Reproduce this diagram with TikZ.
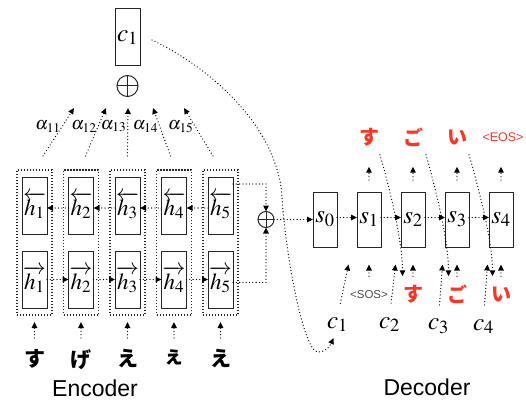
\documentclass[tikz,border=0pt]{standalone}
\usepackage{mathptmx}
\usepackage{fontspec}
\setsansfont{Liberation Sans}
\newfontfamily\jpfont{Noto Sans CJK JP}
\usepackage{tikz}
\usetikzlibrary{arrows.meta,positioning,fit,calc}
\definecolor{ink}{HTML}{262626}
\definecolor{tokred}{HTML}{FF3320}
\definecolor{sosgray}{HTML}{4D4D4D}
\tikzset{
  cell/.style={
    rectangle, draw=ink, line width=1pt, outer sep=0pt,
    minimum width=25pt, minimum height=57pt,
    inner sep=0pt, font=\fontsize{23}{23}\selectfont
  },
  deccell/.style={cell, minimum width=24pt, minimum height=55pt,
    font=\fontsize{25}{25}\selectfont},
  pairbox/.style={rectangle, draw=ink, line width=1.1pt, outer sep=0pt,
    dash pattern=on 1.2pt off 1.8pt, inner xsep=5pt, inner ysep=7pt},
  sumnode/.style={circle, draw=ink, line width=1pt, minimum size=#1,
    inner sep=0pt, outer sep=0pt,
    path picture={\draw[ink, line width=1pt]
      (path picture bounding box.north) -- (path picture bounding box.south)
      (path picture bounding box.west) -- (path picture bounding box.east);}},
  sumnode/.default=20pt,
  flow/.style={
    draw=black, line width=1.3pt, line cap=round,
    dash pattern=on 0pt off 3.3pt,
    -{Triangle[length=6pt,width=5.5pt]}
  },
  weight/.style={pos=0.62, left, inner sep=1pt,
    font=\fontsize{18}{18}\selectfont},
  enctok/.style={inner sep=0pt, font=\jpfont\bfseries\fontsize{21}{21}\selectfont},
  outtok/.style={inner sep=0pt, minimum height=20pt, text=tokred,
    font=\jpfont\bfseries\fontsize{20}{20}\selectfont},
  ctxlbl/.style={inner sep=0pt, font=\fontsize{25}{25}\selectfont},
  title/.style={inner sep=0pt, font=\sffamily\fontsize{23}{23}\selectfont},
}

\begin{document}
\begin{tikzpicture}[x=1pt, y=1pt]
  \useasboundingbox (0,0) rectangle (526,-401);
  % Encoder, backward states on top
  \node[cell] (hb1) at (34.5,-205.5) {$\overleftarrow{h_1}$};
  \node[cell, right=21.5pt of hb1] (hb2) {$\overleftarrow{h_2}$};
  \node[cell, right=21.5pt of hb2] (hb3) {$\overleftarrow{h_3}$};
  \node[cell, right=21.5pt of hb3] (hb4) {$\overleftarrow{h_4}$};
  \node[cell, right=21.5pt of hb4] (hb5) {$\overleftarrow{h_5}$};
  % forward states
  \node[cell, below=17pt of hb1] (hf1) {$\overrightarrow{h_1}$};
  \node[cell, below=17pt of hb2] (hf2) {$\overrightarrow{h_2}$};
  \node[cell, below=17pt of hb3] (hf3) {$\overrightarrow{h_3}$};
  \node[cell, below=17pt of hb4] (hf4) {$\overrightarrow{h_4}$};
  \node[cell, below=17pt of hb5] (hf5) {$\overrightarrow{h_5}$};
  \node[pairbox, fit=(hb1)(hf1)] (col1) {};
  \node[pairbox, fit=(hb2)(hf2)] (col2) {};
  \node[pairbox, fit=(hb3)(hf3)] (col3) {};
  \node[pairbox, fit=(hb4)(hf4)] (col4) {};
  \node[pairbox, fit=(hb5)(hf5)] (col5) {};
  \draw[flow] ([yshift=-2.5pt]hb2.west) -- ([yshift=-2.5pt]hb1.east);
  \draw[flow] ([yshift=-2.5pt]hb3.west) -- ([yshift=-2.5pt]hb2.east);
  \draw[flow] ([yshift=-2.5pt]hb4.west) -- ([yshift=-2.5pt]hb3.east);
  \draw[flow] ([yshift=-2.5pt]hb5.west) -- ([yshift=-2.5pt]hb4.east);
  \draw[flow] (hf1) -- (hf2);
  \draw[flow] (hf2) -- (hf3);
  \draw[flow] (hf3) -- (hf4);
  \draw[flow] (hf4) -- (hf5);
  % input characters
  \node[enctok, below=34pt of col1] (x1) {す};
  \node[enctok, below=34pt of col2] (x2) {げ};
  \node[enctok, below=34pt of col3] (x3) {え};
  \node[enctok, below=34pt of col4] (x4) {ぇ};
  \node[enctok, below=34pt of col5] (x5) {え};
  \draw[flow, shorten <=11pt, shorten >=7pt] (x1.north) -- (col1.south);
  \draw[flow, shorten <=11pt, shorten >=7pt] (x2.north) -- (col2.south);
  \draw[flow, shorten <=11pt, shorten >=7pt] (x3.north) -- (col3.south);
  \draw[flow, shorten <=11pt, shorten >=7pt] (x4.north) -- (col4.south);
  \draw[flow, shorten <=11pt, shorten >=7pt] (x5.north) -- (col5.south);
  \node[title] (enc) at (95,-388) {Encoder};
  % last states merged
  \node[sumnode=16pt, right=25pt of hb5, yshift=-14pt] (esum) {};
  \draw[flow] ([yshift=21.5pt]hb5.east) -| (esum.north);
  \draw[flow] ([yshift=-3pt]hf5.east) -| (esum.south);
  % attention weights
  \node[sumnode=21pt, above=73.5pt of col3] (tsum) {};
  \node[cell, above=9.5pt of tsum, font=\fontsize{25}{25}\selectfont] (ctx) {$c_1$};
  \draw[flow] ([xshift=8.5pt,yshift=14pt]col1.north)
    -- node[weight] {$\alpha_{11}$} ([xshift=-53.5pt,yshift=-11.5pt]tsum.south);
  \draw[flow] ([xshift=4.5pt,yshift=14pt]col2.north)
    -- node[weight] {$\alpha_{12}$} ([xshift=-21.5pt,yshift=-11.5pt]tsum.south);
  \draw[flow] ([yshift=14pt]col3.north)
    -- node[weight] {$\alpha_{13}$} ([xshift=0.5pt,yshift=-11.5pt]tsum.south);
  \draw[flow] ([xshift=-3.5pt,yshift=14pt]col4.north)
    -- node[weight] {$\alpha_{14}$} ([xshift=25.5pt,yshift=-11.5pt]tsum.south);
  \draw[flow] ([xshift=-7.5pt,yshift=14pt]col5.north)
    -- node[weight] {$\alpha_{15}$} ([xshift=56.5pt,yshift=-11.5pt]tsum.south);
  % Decoder row
  \node[deccell, right=39pt of esum] (s0) {$s_0$};
  \node[deccell, right=20pt of s0] (s1) {$s_1$};
  \node[deccell, right=20pt of s1] (s2) {$s_2$};
  \node[deccell, right=20pt of s2] (s3) {$s_3$};
  \node[deccell, right=20pt of s3] (s4) {$s_4$};
  \draw[flow] (esum) -- (s0);
  \draw[flow] ([yshift=2pt]s0.east) -- ([yshift=2pt]s1.west);
  \draw[flow] ([yshift=2pt]s1.east) -- ([yshift=2pt]s2.west);
  \draw[flow] ([yshift=2pt]s2.east) -- ([yshift=2pt]s3.west);
  \draw[flow] ([yshift=2pt]s3.east) -- ([yshift=2pt]s4.west);
  % generated characters
  \node[outtok] (out1) at ([yshift=82pt]s1.center) {す};
  \node[outtok] (out2) at ([yshift=82pt]s2.center) {ご};
  \node[outtok] (out3) at ([yshift=82pt]s3.center) {い};
  \node[outtok, font=\sffamily\fontsize{12.5}{12.5}\selectfont] (out4) at ([xshift=2pt,yshift=82pt]s4.center) {<EOS>};
  \draw[flow, shorten <=12pt, shorten >=19pt] (s1.north) -- (out1.south);
  \draw[flow, shorten <=12pt, shorten >=19pt] (s2.north) -- (out2.south);
  \draw[flow, shorten <=12pt, shorten >=19pt] (s3.north) -- (out3.south);
  \draw[flow, shorten <=12pt, shorten >=19pt] (s4.north) -- ([xshift=-2pt]out4.south);
  % previous characters fed back in
  \node[outtok, text=sosgray, font=\sffamily\fontsize{11.5}{11.5}\selectfont] (in1) at ([yshift=-75pt]s1.center) {<SOS>};
  \node[outtok] (in2) at ([yshift=-75pt]s2.center) {す};
  \node[outtok] (in3) at ([yshift=-75pt]s3.center) {ご};
  \node[outtok] (in4) at ([yshift=-75pt]s4.center) {い};
  \draw[flow, shorten <=8pt, shorten >=17.5pt] (in1.north) -- (s1.south);
  \draw[flow, shorten <=8pt, shorten >=17.5pt] (in2.north) -- (s2.south);
  \draw[flow, shorten <=8pt, shorten >=17.5pt] (in3.north) -- (s3.south);
  \draw[flow, shorten <=8pt, shorten >=17.5pt] (in4.north) -- (s4.south);
  \draw[flow] ([xshift=11pt,yshift=-7pt]out1.south)
    .. controls +(10,-35) and +(0,35) .. ([xshift=-10.5pt,yshift=8pt]in2.north);
  \draw[flow] ([xshift=13pt,yshift=-7pt]out2.south)
    .. controls +(10,-35) and +(0,35) .. ([xshift=-8.5pt,yshift=8pt]in3.north);
  \draw[flow] ([xshift=12pt,yshift=-7pt]out3.south)
    .. controls +(10,-35) and +(0,35) .. ([xshift=-8.5pt,yshift=8pt]in4.north);
  % context vectors
  \node[ctxlbl] (cl1) at ([xshift=-31.5pt,yshift=-105pt]s1.center) {$c_1$};
  \node[ctxlbl] (cl2) at ([xshift=-23.5pt,yshift=-105pt]s2.center) {$c_2$};
  \node[ctxlbl] (cl3) at ([xshift=-18.5pt,yshift=-107pt]s3.center) {$c_3$};
  \node[ctxlbl] (cl4) at ([xshift=-17.5pt,yshift=-107pt]s4.center) {$c_4$};
  \draw[flow, shorten <=14pt] (cl1.north) -- ([xshift=-20.5pt,yshift=-17.5pt]s1.south);
  \draw[flow, shorten <=14pt] (cl2.north) -- ([xshift=-17.5pt,yshift=-17.5pt]s2.south);
  \draw[flow, shorten <=14pt] (cl3.north) -- ([xshift=-14.5pt,yshift=-17.5pt]s3.south);
  \draw[flow, shorten <=14pt] (cl4.north) -- ([xshift=-13.5pt,yshift=-17.5pt]s4.south);
  \draw[flow] ([xshift=12pt,yshift=-2.5pt]ctx.east)
    .. controls (215,-70) and (278,-130) .. (282,-197)
    .. controls (285,-250) and (303,-352) .. (318,-352)
    .. controls (326,-352) and (330,-346) .. ([xshift=-4pt,yshift=-6pt]cl1.south);
  \node[title] (dec) at (427,-387) {Decoder};
\end{tikzpicture}
\end{document}
